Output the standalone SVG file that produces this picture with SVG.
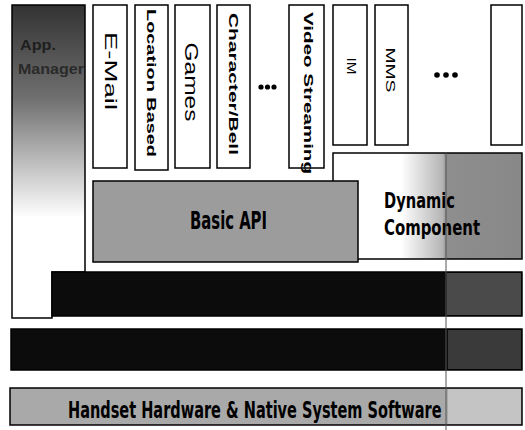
<svg xmlns="http://www.w3.org/2000/svg" width="525" height="430" viewBox="0 0 525 430">
<defs>
<linearGradient id="gMgr" x1="0" y1="5" x2="0" y2="318" gradientUnits="userSpaceOnUse">
<stop offset="0" stop-color="#333"/>
<stop offset="0.3" stop-color="#707070"/>
<stop offset="0.55" stop-color="#cfcfcf"/>
<stop offset="0.68" stop-color="#fff"/>
<stop offset="1" stop-color="#fff"/>
</linearGradient>
<linearGradient id="gDyn" x1="333" y1="0" x2="522" y2="0" gradientUnits="userSpaceOnUse">
<stop offset="0" stop-color="#fff"/>
<stop offset="0.36" stop-color="#fff"/>
<stop offset="0.58" stop-color="#b5b5b5"/>
<stop offset="0.6" stop-color="#8e8e8e"/>
<stop offset="1" stop-color="#888"/>
</linearGradient>
<style>
.app{fill:#fff;stroke:#000;stroke-width:1.5}
.vt{font-family:"Liberation Sans",Arial,sans-serif;fill:#000;text-anchor:middle;dominant-baseline:central}
.b{font-weight:bold}
.big{font-family:"Liberation Sans Narrow","DejaVu Sans Condensed","Liberation Sans",sans-serif;font-weight:bold;fill:#000}
.dot{fill:#000}
</style>
</defs>
<rect width="525" height="430" fill="#fff"/>

<g id="app-manager">
<polygon points="12,5 85,5 85,272 52,272 52,318 12,318" fill="url(#gMgr)" stroke="#000" stroke-width="1.5"/>
<text x="20" y="50" font-family="Liberation Sans,sans-serif" font-weight="bold" font-size="15" fill="#1e1e1e" textLength="36" lengthAdjust="spacingAndGlyphs">App.</text>
<text x="18" y="74" font-family="Liberation Sans,sans-serif" font-weight="bold" font-size="15" fill="#2a2a2a" textLength="66" lengthAdjust="spacingAndGlyphs">Manager</text>
</g>

<g id="email"><rect class="app" x="93" y="5" width="34" height="163"/>
<text class="vt" font-size="17" transform="translate(110,71) rotate(90)" textLength="78" lengthAdjust="spacingAndGlyphs">E-Mail</text></g>
<g id="location"><rect class="app" x="135" y="5" width="33" height="165"/>
<text class="vt b" font-size="13" transform="translate(151,83) rotate(90)" textLength="148" lengthAdjust="spacingAndGlyphs">Location Based</text></g>
<g id="games"><rect class="app" x="175" y="5" width="35" height="163"/>
<text class="vt" font-size="18" transform="translate(191,82) rotate(90)" textLength="79" lengthAdjust="spacingAndGlyphs">Games</text></g>
<g id="character"><rect class="app" x="217" y="5" width="33" height="163"/>
<text class="vt b" font-size="13" transform="translate(233,84) rotate(90)" textLength="142" lengthAdjust="spacingAndGlyphs">Character/Bell</text></g>
<g id="dots1"><circle class="dot" cx="261" cy="87" r="2.6"/><circle class="dot" cx="267.5" cy="87" r="2.6"/><circle class="dot" cx="274" cy="87" r="2.6"/></g>
<g id="video"><rect class="app" x="289" y="5" width="35" height="163"/>
<text class="vt b" font-size="13" transform="translate(308,93) rotate(90)" textLength="162" lengthAdjust="spacingAndGlyphs">Video Streaming</text></g>
<g id="im"><rect class="app" x="333" y="5" width="34" height="140"/>
<text class="vt" font-size="13" transform="translate(351,66) rotate(90)" textLength="17" lengthAdjust="spacingAndGlyphs">IM</text></g>
<g id="mms"><rect class="app" x="375" y="5" width="33" height="140"/>
<text class="vt" font-size="13" transform="translate(390,70) rotate(90)" textLength="45" lengthAdjust="spacingAndGlyphs">MMS</text></g>
<g id="dots2"><circle class="dot" cx="437" cy="75" r="2.8"/><circle class="dot" cx="446" cy="75" r="2.8"/><circle class="dot" cx="455" cy="75" r="2.8"/></g>
<g id="empty-app"><rect class="app" x="491" y="5" width="31" height="140"/></g>

<g id="dynamic-component">
<rect x="333" y="153" width="189" height="106" fill="url(#gDyn)" stroke="#000" stroke-width="1.5"/>
<text class="big" x="384" y="208" font-size="21" textLength="71" lengthAdjust="spacingAndGlyphs">Dynamic</text>
<text class="big" x="384" y="235" font-size="21" textLength="96" lengthAdjust="spacingAndGlyphs">Component</text>
</g>

<g id="basic-api">
<rect x="93" y="181" width="265" height="81" fill="#9c9c9c" stroke="#000" stroke-width="1.5"/>
<text class="big" x="190" y="229" font-size="24" textLength="77" lengthAdjust="spacingAndGlyphs">Basic API</text>
</g>

<g id="layer-1">
<rect x="52" y="272" width="470" height="44" fill="#0c0c0c" stroke="#000" stroke-width="1.5"/>
<rect x="447" y="273" width="74" height="42" fill="#4a4a4a"/>
</g>

<g id="layer-2">
<rect x="11" y="329" width="511" height="41" fill="#0c0c0c" stroke="#000" stroke-width="1.5"/>
<rect x="448" y="330" width="73" height="39" fill="#3a3a3a"/>
</g>

<g id="hardware">
<rect x="10" y="388" width="512" height="37" fill="#a9a9a9" stroke="#000" stroke-width="1.5"/>
<rect x="448" y="389" width="73" height="35" fill="#c4c4c4"/>
<text class="big" font-size="23" transform="translate(68,418) scale(0.75,1)" x="0" y="0" textLength="498" lengthAdjust="spacingAndGlyphs">Handset Hardware &amp; Native System Software</text>
</g>

<g id="connectors">
<line x1="446" y1="153" x2="446" y2="430" stroke="#555" stroke-width="1"/>
</g>
</svg>
